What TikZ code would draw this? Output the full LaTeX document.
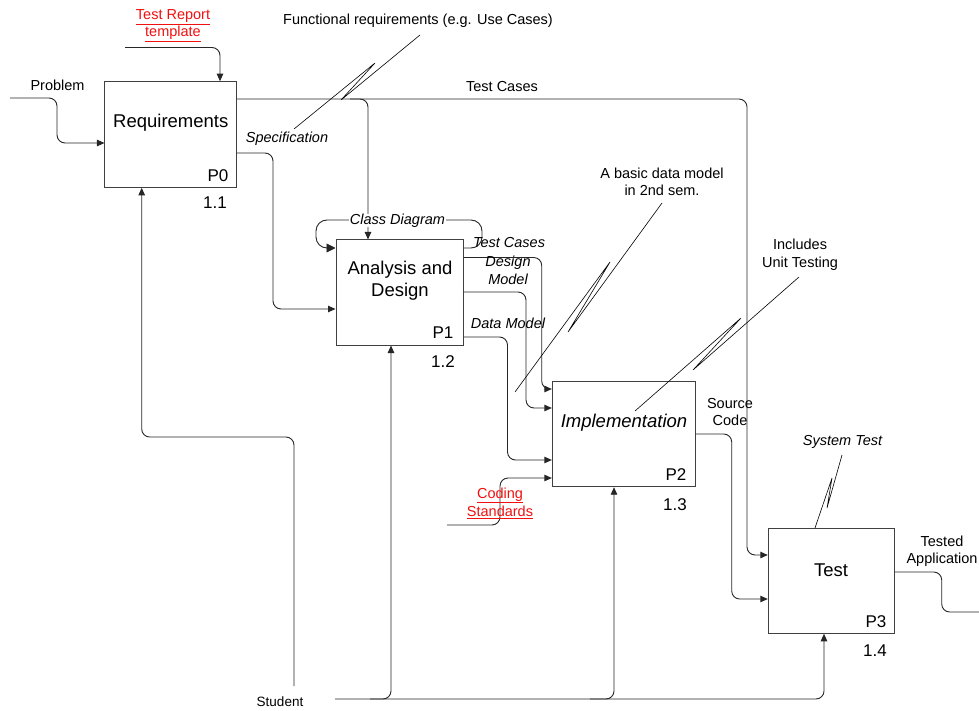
\documentclass[tikz,border=0pt]{standalone}
\usepackage{fontspec}
\setmainfont{Liberation Sans}
\usetikzlibrary{arrows.meta}
\definecolor{linkred}{HTML}{F01010}
\begin{document}
\begin{tikzpicture}[x=1pt,y=-1pt,
  procbox/.style={draw=black!75, line width=1pt, fill=white, inner sep=0pt},
  conn/.style={draw=black!85, line width=0.9pt, rounded corners=8pt},
  arrowin/.style={-{Triangle[length=7.5pt,width=6.5pt]}},
  bigarrow/.style={-{Triangle[length=9pt,width=9pt]}},
  squig/.style={draw=black, line width=0.6pt},
  lbl/.style={inner sep=0pt, align=center, font=\fontsize{14.5}{17.5}\selectfont},
  ilbl/.style={inner sep=0pt, align=center, font=\fontsize{14.5}{17.5}\selectfont\itshape},
  linklbl/.style={inner sep=0pt, align=center, text=linkred, font=\fontsize{14.5}{17.5}\selectfont},
  title/.style={inner sep=0pt, align=center, font=\fontsize{18.5}{22}\selectfont},
  num/.style={inner sep=0pt, font=\fontsize{17}{20}\selectfont}
]
\useasboundingbox (0,0) rectangle (979,711);

% process boxes
\node[procbox, minimum width=131.7pt, minimum height=105.6pt] (req)  at (170.8,134.5) {};
\node[procbox, minimum width=127pt,   minimum height=105pt]   (ad)   at (399.5,292.5) {};
\node[procbox, minimum width=142.7pt, minimum height=105pt]   (impl) at (623.7,434.2) {};
\node[procbox, minimum width=126pt,   minimum height=105pt]   (test) at (831.3,580.8) {};

% box texts
\node[title] (reqT) at (170.8,123) {Requirements};
\node[num] (reqP) at (218,176) {P0};
\node[num] (reqN) at (215,203) {1.1};
\node[title] (adT) at (400,281) {Analysis and\\Design};
\node[num] (adP) at (443,333) {P1};
\node[num] (adN) at (443,362) {1.2};
\node[title, font=\fontsize{18.5}{22}\selectfont\itshape] (implT) at (624,423) {Implementation};
\node[num] (implP) at (676,475) {P2};
\node[num] (implN) at (675,505) {1.3};
\node[title] (testT) at (831,570) {Test};
\node[num] (testP) at (876,622) {P3};
\node[num] (testN) at (875,651) {1.4};

% problem input
\coordinate (probIn) at (10,98);
\draw[conn,arrowin] (probIn) -| (57,143) -- (req.west |- 0,143);
\node[lbl] (probL) at (57.5,85) {Problem};

% test report template control
\coordinate (trIn) at (125,47.5);
\draw[conn,arrowin] (trIn) -| (req.north -| 220,0);
\node[linklbl, font=\fontsize{14.5}{17}\selectfont] (trL) at (173,26) {\underline{Test Report}\\\underline{template}};

% test cases towards the test box, with a branch into analysis
\draw[conn,arrowin] (req.east |- 0,99) -| (747,555) -- (test.west |- 0,555);
\draw[conn,arrowin] (350,99) -| (ad.north -| 368,0);
\node[lbl] (tcL) at (502,87) {Test Cases};

% specification
\draw[conn,arrowin] (req.east |- 0,153) -| (273,309) -- (ad.west |- 0,309);
\node[ilbl] (specL) at (287,138.5) {Specification};

% class diagram feedback loop
\draw[conn,bigarrow,rounded corners=11pt] (ad.east |- 0,248) -| (482,220) -| (316,248) -- (ad.west |- 0,248);
\node[ilbl, fill=white, inner xsep=1pt] (cdL) at (397.5,220.5) {Class Diagram};

% analysis outputs into implementation
\draw[conn,arrowin] (ad.east |- 0,257.5) -| (541.7,389) -- (impl.west |- 0,389);
\draw[conn,arrowin] (ad.east |- 0,292) -| (526,408) -- (impl.west |- 0,408);
\draw[conn,arrowin] (ad.east |- 0,337) -| (507.5,460) -- (impl.west |- 0,460);
\node[ilbl] (tc2L) at (509,243) {Test Cases};
\node[ilbl] (dmL) at (508,270.5) {Design\\Model};
\node[ilbl] (dataL) at (508,323) {Data Model};

% coding standards control
\coordinate (csIn) at (447,525);
\draw[conn,arrowin] (csIn) -| (500,478) -- (impl.west |- 0,478);
\node[linklbl, font=\fontsize{14.5}{18}\selectfont] (csL) at (500,503) {\underline{Coding}\\\underline{Standards}};

% source code
\draw[conn,arrowin] (impl.east |- 0,434) -| (731.7,599) -- (test.west |- 0,599);
\node[lbl] (scL) at (730,412) {Source\\Code};

% tested application output
\coordinate (taOut) at (979,612);
\draw[conn] (test.east |- 0,572) -| (941.7,612) -- (taOut);
\node[lbl] (taL) at (942,551) {Tested\\Application};

% student mechanism
\coordinate (stA) at (294,686);
\draw[conn,arrowin] (stA) |- (141.7,437) -- (req.south -| 141.7,0);
\coordinate (stB) at (335,699);
\draw[conn,arrowin] (stB) -| (test.south -| 824,0);
\draw[conn,arrowin] (370,699) -| (ad.south -| 391,0);
\draw[conn,arrowin] (590,699) -| (impl.south -| 614,0);
\node[lbl, font=\fontsize{13.5}{16}\selectfont] (stL) at (280,702) {Student};

% annotations with squiggles
\node[lbl] (fnL) at (418,21) {Functional requirements (e.g. Use Cases)};
\draw[squig] (420,35) -- (341,100) -- (375,63) -- (294,129);
\node[lbl] (bdL) at (662,182) {A basic data model\\in 2nd sem.};
\draw[squig] (662,203) -- (568,332) -- (610,262) -- (515,392);
\node[lbl] (utL) at (800,255) {Includes\\Unit Testing};
\draw[squig] (799,277) -- (693,370) -- (741,318) -- (635,411);
\node[ilbl] (stTL) at (842.5,442) {System Test};
\draw[squig] (842,455) -- (827,508) -- (832,478) -- (815,528);
\end{tikzpicture}
\end{document}
